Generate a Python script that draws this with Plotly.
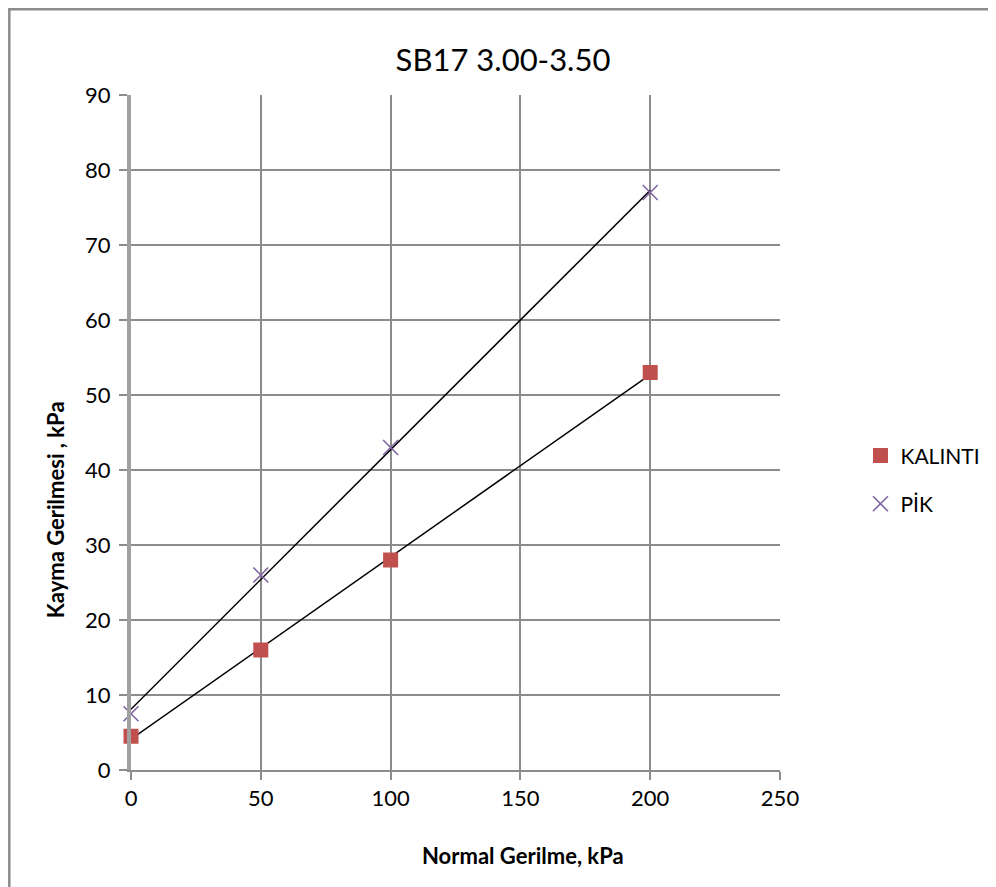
import numpy as np
import plotly.graph_objects as go

# normal stress (kPa) and shear stress (kPa)
normal_stress = [0, 50, 100, 200]
kalinti = [4.5, 16, 28, 53]
pik = [7.5, 26, 43, 77]

x_ticks = [0, 50, 100, 150, 200, 250]
y_ticks = [0, 10, 20, 30, 40, 50, 60, 70, 80, 90]

FONT = "Lato, Open Sans, sans-serif"
GRID = "#8c8c8c"


def trend(xs, ys):
    """linear trendline over the data range"""
    m, b = np.polyfit(xs, ys, 1)
    xx = np.array([min(xs), max(xs)])
    return xx, m * xx + b


fig = go.Figure()

for ys in (pik, kalinti):
    tx, ty = trend(normal_stress, ys)
    fig.add_trace(go.Scatter(x=tx, y=ty, mode="lines", line=dict(color="black", width=1.5),
                             showlegend=False, hoverinfo="skip", cliponaxis=False))

fig.add_trace(go.Scatter(
    x=normal_stress, y=kalinti, mode="markers", name="KALINTI", legendgroup="k",
    marker=dict(symbol="square", size=15, color="#C0504D"), cliponaxis=False,
))
fig.add_trace(go.Scatter(
    x=normal_stress, y=pik, mode="markers", name="PİK", legendgroup="p",
    marker=dict(symbol="x-thin-open", size=15, color="#8064A2", line=dict(width=1.6, color="#8064A2")),
    cliponaxis=False,
))

fig.update_layout(
    width=996, height=887,
    margin=dict(l=123, r=224, t=87, b=125),
    paper_bgcolor="white", plot_bgcolor="white",
    font=dict(family=FONT, color="black"),
    title=dict(text="SB17 3.00-3.50", x=0.497, xref="container", y=0.941, yanchor="middle",
               font=dict(size=31, family=FONT)),
    legend=dict(x=1.124, y=0.43, xanchor="left", yanchor="middle", font=dict(size=21),
                tracegroupgap=18, bgcolor="rgba(0,0,0,0)"),
    showlegend=True,
)

fig.update_xaxes(
    range=[0, 250], tickvals=x_ticks, showgrid=True, gridcolor=GRID, gridwidth=1.5,
    showline=True, linecolor=GRID, linewidth=2, ticks="outside", ticklen=8, tickcolor=GRID,
    tickwidth=1.5, tickfont=dict(size=22), zeroline=False, mirror=False,
)
fig.update_yaxes(
    range=[0, 90], tickvals=y_ticks, showgrid=True, gridcolor=GRID, gridwidth=1.5,
    showline=True, linecolor="#a0a0a0", linewidth=4, ticks="outside", ticklen=8, tickcolor=GRID,
    tickwidth=1.5, tickfont=dict(size=22), zeroline=False, ticklabelstandoff=4,
)

# axis titles
fig.add_annotation(text="<b>Normal Gerilme, kPa</b>", xref="paper", yref="paper",
                   x=0.604, y=-0.126, xanchor="center", yanchor="middle",
                   showarrow=False, font=dict(size=22))
fig.add_annotation(text="<b>Kayma Gerilmesi , kPa</b>", xref="paper", yref="paper",
                   x=-0.117, y=0.385, xanchor="center", yanchor="middle", textangle=-90,
                   showarrow=False, font=dict(size=22))

# chart frame
fig.add_shape(type="rect", xref="paper", yref="paper",
              x0=-0.1875, x1=1.5, y0=-0.3, y1=1.127,
              line=dict(color="#8c8c8c", width=2.5), layer="below")

fig.write_html("out.html")
